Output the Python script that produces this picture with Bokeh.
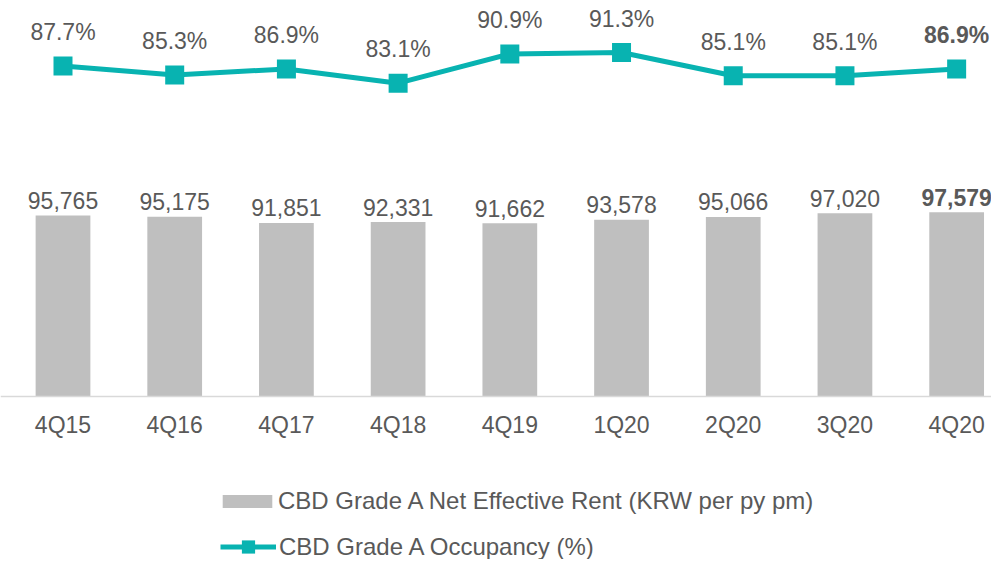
from bokeh.plotting import figure
from bokeh.models import (Range1d, ColumnDataSource, FixedTicker, LinearAxis,
                          Legend, LegendItem)
from bokeh.core.properties import value
from bokeh.embed import file_html
from bokeh.resources import INLINE

quarters = ["4Q15", "4Q16", "4Q17", "4Q18", "4Q19", "1Q20", "2Q20", "3Q20", "4Q20"]
rent = [95765, 95175, 91851, 92331, 91662, 93578, 95066, 97020, 97579]
occupancy = [87.7, 85.3, 86.9, 83.1, 90.9, 91.3, 85.1, 85.1, 86.9]
rent_name = "CBD Grade A Net Effective Rent (KRW per py pm)"
occ_name = "CBD Grade A Occupancy (%)"

FONT = "Liberation Sans"
FS = "23px"
LFS = "24px"
TXT = "#595959"
TEAL = "#08B3B1"
GREY = "#BFBFBF"

idx = list(range(len(quarters)))
n = len(quarters)
rent_lbl = [f"{v:,}" for v in rent]
occ_lbl = [f"{v:.1f}%" for v in occupancy]
src = ColumnDataSource(dict(x=idx, rent=rent, occ=occupancy))

p = figure(width=991, height=559, output_backend="svg", toolbar_location=None,
           x_range=Range1d(-0.5595, 8.312), y_range=Range1d(-86292, 209642),
           x_axis_location=None, y_axis_location=None,
           min_border=0, min_border_left=0, min_border_right=0,
           min_border_top=0, min_border_bottom=0)
p.outline_line_color = None
p.grid.visible = False
p.background_fill_color = "white"
p.border_fill_color = "white"
p.extra_y_ranges = {"occ": Range1d(-44.25, 105.21)}

xaxis = LinearAxis(fixed_location=0, ticker=FixedTicker(ticks=idx),
                   major_label_overrides={i: q for i, q in zip(idx, quarters)})
xaxis.axis_line_color = "#D9D9D9"
xaxis.axis_line_width = 1.5
xaxis.major_tick_line_color = None
xaxis.minor_tick_line_color = None
xaxis.major_label_standoff = 9
xaxis.major_label_text_font = FONT
xaxis.major_label_text_font_size = FS
xaxis.major_label_text_color = TXT
p.add_layout(xaxis, "below")

bars = p.vbar(x="x", top="rent", width=0.49, source=src, fill_color=GREY,
              line_color=None)

line = p.line(x="x", y="occ", source=src, line_color=TEAL, line_width=5,
              y_range_name="occ")
marks = p.scatter(x="x", y="occ", source=src, marker="square", size=19,
                  fill_color=TEAL, line_color=None, y_range_name="occ")

# value labels (last one bold)
last = n - 1
src_a = ColumnDataSource(dict(x=idx[:last], rent=rent[:last], occ=occupancy[:last],
                              rent_lbl=rent_lbl[:last], occ_lbl=occ_lbl[:last]))
src_b = ColumnDataSource(dict(x=idx[last:], rent=rent[last:], occ=occupancy[last:],
                              rent_lbl=rent_lbl[last:], occ_lbl=occ_lbl[last:]))
for s, style in ((src_a, "normal"), (src_b, "bold")):
    p.text(x="x", y="rent", text="rent_lbl", source=s, text_align="center",
           text_baseline="alphabetic", y_offset=-15, text_font=value(FONT),
           text_font_size=FS, text_color=TXT, text_font_style=style)
    p.text(x="x", y="occ", text="occ_lbl", source=s, text_align="center",
           text_baseline="alphabetic", y_offset=-34, text_font=value(FONT),
           text_font_size=FS, text_color=TXT, text_font_style=style,
           y_range_name="occ")

def make_legend(items, loc, gw, gh, standoff):
    return Legend(items=items, location=loc, orientation="vertical",
                  glyph_width=gw, glyph_height=gh, label_standoff=standoff,
                  padding=0, margin=0, spacing=0, border_line_color=None,
                  background_fill_alpha=0, label_text_font=FONT,
                  label_text_font_size=LFS, label_text_color=TXT)

lg1 = make_legend([LegendItem(label=rent_name, renderers=[bars])], (216, 44), 62, 16, 0)
lg2 = make_legend([LegendItem(label=occ_name, renderers=[line, marks])], (220, -4), 56, 33, 3)
p.add_layout(lg1, "center")
p.add_layout(lg2, "center")

open("out.html", "w").write(file_html(p, INLINE))
